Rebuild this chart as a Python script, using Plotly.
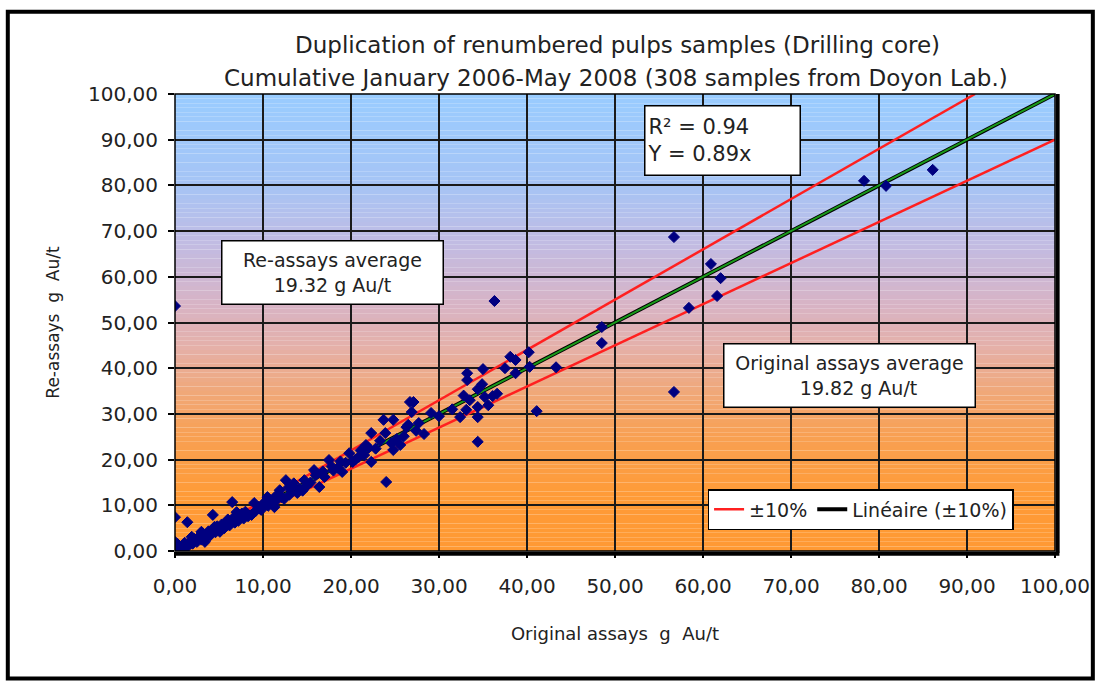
import plotly.graph_objects as go

# ---- data ----
x_orig = [0.1, 0.2, 0.3, 0.0, 0.5, 0.8, 1.0, 1.2, 1.5, 1.8, 2.0, 2.2, 2.5, 2.8, 3.0, 3.2, 3.5, 3.8,
          4.0, 4.3, 4.5, 4.6, 5.0, 5.1, 5.3, 5.6, 5.9, 6.2, 6.5, 6.6, 7.0, 7.2, 7.5, 7.8, 8.0, 8.3,
          8.7, 9.0, 9.2, 9.5, 9.8, 10.2, 10.5, 10.6, 11.0, 11.3, 11.6, 11.9, 12.1, 12.4, 12.6, 13.0,
          13.5, 13.9, 14.2, 14.7, 15.0, 15.8, 16.0, 16.4, 17.0, 17.5, 18.0, 18.5, 19.0, 19.4, 19.8,
          20.2, 20.9, 21.5, 21.7, 22.3, 22.3, 22.8, 23.7, 23.9, 24.0, 24.6, 24.8, 24.8, 25.6, 26.3,
          26.5, 26.7, 26.9, 27.1, 27.7, 28.3, 29.1, 30.0, 32.4, 33.1, 33.2, 33.2, 33.5, 34.4, 34.4,
          34.4, 34.4, 35.0, 35.2, 35.6, 36.1, 36.3, 38.1, 38.7, 38.7, 40.2, 40.3, 41.1, 43.3, 48.5,
          48.5, 56.7, 56.7, 58.4, 60.9, 62.0, 61.6, 78.3, 80.8, 86.1, 0.0, 0.0, 1.4, 0.4, 1.1, 1.9,
          3.0, 3.4, 6.8, 8.1, 9.6, 10.9, 12.9, 14.5, 17.8, 20.5, 22.0, 25.2, 27.4, 31.5, 32.8, 34.9,
          36.6, 37.5, 2.6, 4.8, 6.0, 7.6, 11.4, 13.3, 15.4, 16.8, 18.8, 21.1, 23.3, 26.0]
y_reassay = [0.2, 0.8, 1.5, 2.0, 0.4, 1.0, 0.6, 1.4, 1.1, 2.2, 1.6, 2.6, 2.0, 3.1, 2.5, 3.8, 3.0, 4.3,
             3.4, 7.9, 5.3, 4.1, 4.6, 4.2, 5.8, 5.0, 6.3, 5.6, 10.7, 7.2, 8.5, 6.6, 7.8, 7.1, 8.6, 7.6,
             7.9, 10.5, 8.8, 9.6, 9.0, 10.7, 11.8, 9.9, 10.5, 9.6, 11.2, 13.3, 11.8, 11.4, 15.5, 12.3,
             14.8, 12.7, 13.6, 15.5, 14.3, 17.7, 16.6, 14.0, 16.2, 19.9, 17.6, 18.2, 17.3, 19.3, 21.4,
             19.5, 20.6, 21.0, 23.2, 19.5, 25.8, 22.4, 28.7, 25.8, 15.1, 23.6, 28.7, 22.1, 23.2, 27.1,
             27.6, 32.6, 30.4, 32.6, 28.0, 25.6, 30.2, 29.5, 29.3, 30.9, 38.9, 37.4, 33.0, 35.4, 31.5,
             29.3, 23.9, 39.8, 33.7, 31.9, 33.9, 54.7, 42.5, 41.8, 38.9, 43.5, 40.3, 30.6, 40.2, 49.0,
             45.5, 68.7, 34.8, 53.2, 62.8, 59.7, 55.8, 81.0, 79.9, 83.4, 53.6, 7.4, 6.3, 0.9, 1.8, 3.1,
             4.2, 2.0, 6.2, 8.0, 9.3, 11.0, 13.9, 13.2, 18.5, 20.0, 22.6, 24.5, 26.3, 31.0, 34.0, 36.5,
             34.4, 40.0, 2.9, 5.4, 6.9, 8.2, 11.9, 14.1, 15.0, 17.4, 19.6, 22.0, 24.1, 25.1]

band_slopes = [1.1, 0.9]          # +/-10% envelope
ticks = [0, 10, 20, 30, 40, 50, 60, 70, 80, 90, 100]
tick_text = ["0,00", "10,00", "20,00", "30,00", "40,00", "50,00",
             "60,00", "70,00", "80,00", "90,00", "100,00"]

# background gradient stops (y value, rgb)
grad_stops = [(0, (255, 153, 51)), (12, (255, 155, 55)), (25, (248, 160, 82)),
              (35, (240, 168, 122)), (45, (228, 176, 170)), (55, (214, 180, 200)),
              (68, (192, 188, 228)), (80, (166, 196, 245)), (100, (153, 204, 255))]


def grad_color(v):
    for (a, ca), (b, cb) in zip(grad_stops[:-1], grad_stops[1:]):
        if a <= v <= b:
            t = (v - a) / (b - a)
            c = [round(ca[i] + (cb[i] - ca[i]) * t) for i in range(3)]
            return "rgb(%d,%d,%d)" % tuple(c)
    return "rgb(153,204,255)"


fig = go.Figure()

shapes = []
for i in range(100):
    shapes.append(dict(type="rect", xref="x", yref="y", x0=0, x1=100, y0=i, y1=i + 1,
                       fillcolor=grad_color(i + 0.5), line=dict(width=0), layer="below"))
# plot frame: thin top/left, thick right/bottom
shapes.append(dict(type="rect", xref="paper", yref="paper", x0=0, x1=1, y0=0, y1=1,
                   line=dict(color="black", width=1.5), layer="above"))
shapes.append(dict(type="line", xref="paper", yref="paper", x0=1.003, x1=1.003, y0=-0.004, y1=1,
                   line=dict(color="black", width=4), layer="above"))
shapes.append(dict(type="line", xref="paper", yref="paper", x0=0, x1=1.005, y0=-0.006, y1=-0.006,
                   line=dict(color="black", width=4), layer="above"))
# outer chart border
shapes.append(dict(type="rect", xref="paper", yref="paper", x0=-0.190, x1=1.043, y0=-0.279, y1=1.18,
                   line=dict(color="black", width=4), layer="above"))

# linear fit (black) with green line on top
fig.add_trace(go.Scatter(x=[0, 100], y=[0, 100], mode="lines",
                         line=dict(color="black", width=4), name="Linéaire (±10%)",
                         showlegend=True, legendrank=2, hoverinfo="skip"))
fig.add_trace(go.Scatter(x=[0, 100], y=[0, 100], mode="lines",
                         line=dict(color="#1a9a1a", width=2), showlegend=False, hoverinfo="skip"))
# +/-10% envelope
for k, s in enumerate(band_slopes):
    xe = [0, min(100, 100 / s)]
    ye = [0, min(100, 100 / s) * s]
    fig.add_trace(go.Scatter(x=xe, y=ye, mode="lines", line=dict(color="#ff2020", width=2.5),
                             name="±10%", showlegend=(k == 0), legendrank=1, hoverinfo="skip"))

fig.add_trace(go.Scatter(x=x_orig, y=y_reassay, mode="markers",
                         marker=dict(symbol="diamond", size=8.5, color="#000080",
                                     line=dict(color="#000080", width=1)),
                         showlegend=False))

ann_font = dict(family="DejaVu Sans", size=19, color="#222")
title_font = dict(family="DejaVu Sans", size=23, color="#222")
annotations = [
    dict(text="Duplication of renumbered pulps samples (Drilling core)", xref="paper", yref="paper",
         x=(620 - 175) / 884, y=(551 - 45) / 457, xanchor="center", yanchor="middle",
         showarrow=False, font=title_font),
    dict(text="Cumulative January 2006-May 2008 (308 samples from Doyon Lab.)", xref="paper", yref="paper",
         x=(618 - 175) / 884, y=(551 - 78) / 457, xanchor="center", yanchor="middle",
         showarrow=False, font=title_font),
    dict(text="R² = 0.94<br>Y = 0.89x", x=62.2, y=89.9, showarrow=False, align="left",
         width=150, height=64, bgcolor="white", bordercolor="black", borderwidth=1.5, borderpad=2,
         font=dict(family="DejaVu Sans", size=21, color="#222")),
    dict(text="Re-assays average<br>19.32 g Au/t", x=17.9, y=61.0, showarrow=False, align="center",
         width=216, height=58, bgcolor="white", bordercolor="black", borderwidth=1.5, borderpad=2,
         font=ann_font),
    dict(text="Original assays average<br>   19.82 g Au/t", x=76.7, y=38.5, showarrow=False, align="center",
         width=246, height=58, bgcolor="white", bordercolor="black", borderwidth=1.5, borderpad=2,
         font=ann_font),
]

axis_common = dict(range=[0, 100], tickvals=ticks, ticktext=tick_text, showgrid=True,
                   gridcolor="#1a1a1a", gridwidth=1.5, zeroline=False, ticks="outside",
                   ticklen=6, tickcolor="black", tickwidth=1.5, showline=False,
                   tickfont=dict(family="DejaVu Sans", size=20, color="#222"))

fig.update_layout(
    width=1102, height=681,
    margin=dict(l=175, r=43, t=94, b=130),
    paper_bgcolor="white", plot_bgcolor="rgba(0,0,0,0)",
    xaxis=dict(**axis_common, ticklabelstandoff=11,
               title=dict(text="Original assays\u00a0 g\u00a0 Au/t", standoff=30,
                          font=dict(family="DejaVu Sans", size=18, color="#222"))),
    yaxis=dict(**axis_common, ticklabelstandoff=6,
               title=dict(text="Re-assays\u00a0 g\u00a0 Au/t", standoff=24,
                          font=dict(family="DejaVu Sans", size=17, color="#222"))),
    shapes=shapes, annotations=annotations,
    legend=dict(orientation="h", x=(710 - 175) / 884, y=(551 - 489) / 457, xanchor="left", yanchor="top",
                bgcolor="white", bordercolor="black", borderwidth=1.5,
                font=dict(family="DejaVu Sans", size=19, color="#222")),
    showlegend=True,
)

fig.write_html("out.html")
